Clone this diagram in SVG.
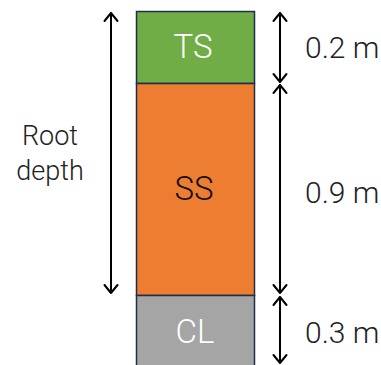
<svg xmlns="http://www.w3.org/2000/svg" width="381" height="365" viewBox="0 0 381 365">
<defs>
<style>
.lbl{font-family:Roboto,"Liberation Sans",Arial,sans-serif;font-weight:300;fill:#222;}
.big{font-family:Roboto,"Liberation Sans",Arial,sans-serif;font-weight:300;font-size:33px;text-anchor:middle;}
.layer{stroke:#1f2d4a;stroke-width:1.5;}
.ar{fill:none;stroke:#000;stroke-width:2;stroke-linecap:round;stroke-linejoin:round;}
</style>
</defs>
<rect width="381" height="365" fill="#fff"/>
<g id="TS">
<rect class="layer" x="136.5" y="11.5" width="118" height="72" fill="#70AD47"/>
<text class="big" x="193" y="58" fill="#fff">TS</text>
</g>
<g id="SS">
<rect class="layer" x="136.5" y="83.5" width="118" height="212" fill="#ED7D31" stroke="#111"/>
<text class="big" x="194" y="200" fill="#111">SS</text>
</g>
<g id="CL">
<rect class="layer" x="136.5" y="295.5" width="118" height="75" fill="#A5A5A5"/>
<text class="big" x="195" y="343" fill="#fff">CL</text>
</g>
<g id="labels">
<text class="lbl" x="50" y="145" font-size="27" text-anchor="middle">Root</text>
<text class="lbl" x="50" y="180" font-size="27" text-anchor="middle">depth</text>
<text class="lbl" x="305" y="58" font-size="30">0.2 m</text>
<text class="lbl" x="305" y="203" font-size="30">0.9 m</text>
<text class="lbl" x="305" y="343" font-size="30">0.3 m</text>
</g>
<g id="connectors">
<path class="ar" d="M111 13V293M104.5 21L111 13L117.5 21M104.5 285L111 293L117.5 285"/>
<path class="ar" d="M280 13V82M273.5 21L280 13L286.5 21M273.5 74L280 82L286.5 74"/>
<path class="ar" d="M280 85V293M273.5 93L280 85L286.5 93M273.5 285L280 293L286.5 285"/>
<path class="ar" d="M280 297V363M273.5 305L280 297L286.5 305M273.5 355L280 363L286.5 355"/>
</g>
</svg>
